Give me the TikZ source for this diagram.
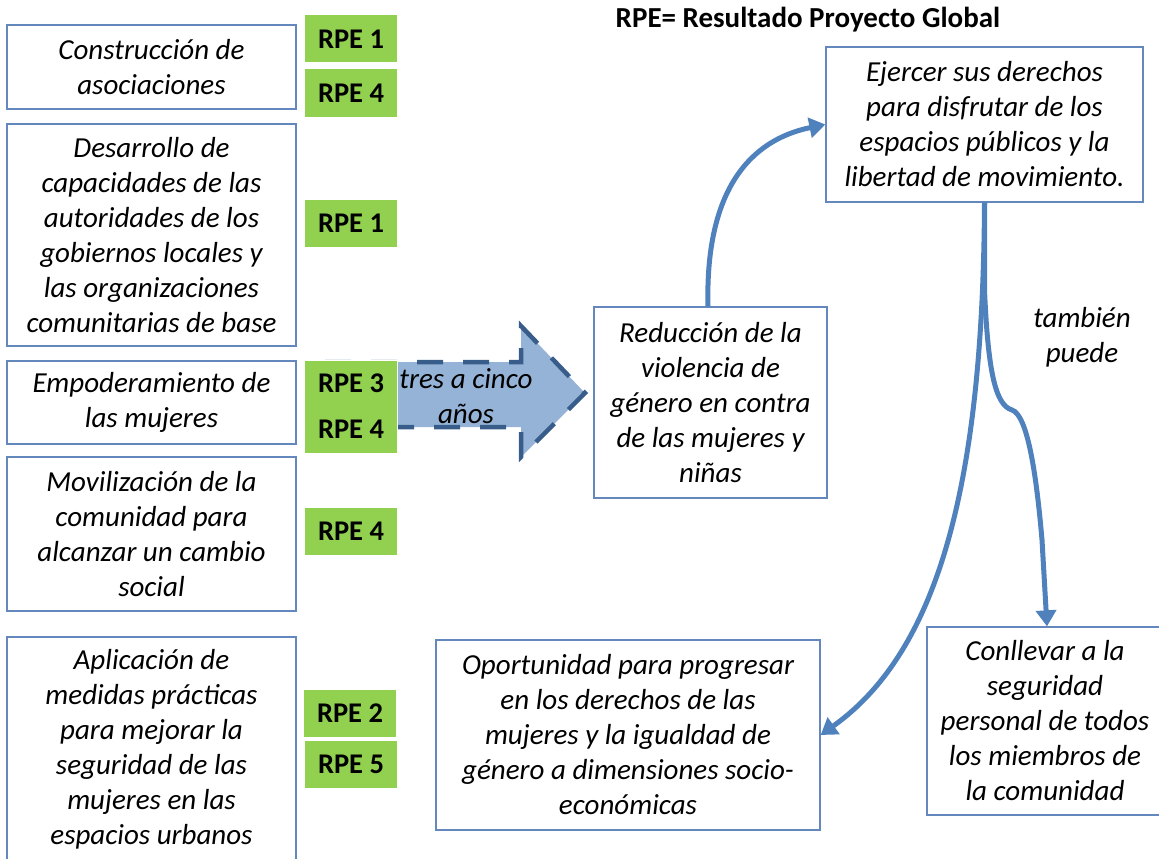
\documentclass[tikz,border=0pt]{standalone}
\usepackage{fontspec}
\setmainfont{Carlito}
\usetikzlibrary{arrows.meta,calc}
\definecolor{boxline}{RGB}{100,135,190}
\definecolor{flow}{RGB}{79,129,189}
\definecolor{rpegreen}{RGB}{146,208,80}
\definecolor{arrfill}{RGB}{149,179,215}
\definecolor{arrline}{RGB}{56,93,138}
\tikzset{
  box/.style={draw=boxline, line width=1.3pt, fill=white, align=center, inner sep=0pt,
    font=\fontsize{29}{35}\selectfont\itshape},
  rpe/.style={fill=rpegreen, draw=white, line width=1pt, minimum width=93, minimum height=48, inner sep=0pt,
    font=\fontsize{28.5}{46}\selectfont\bfseries, align=center},
  flowline/.style={draw=flow, line width=5pt, -{Triangle[length=16pt,width=20pt]}},
  lbl/.style={align=center, inner sep=0pt, font=\fontsize{29}{35}\selectfont\itshape}
}
\begin{document}
\begin{tikzpicture}[x=1pt,y=-1pt]
\useasboundingbox (0,0) rectangle (1159,859);
% left boxes
\node[box, minimum width=289, minimum height=84] (b1) at (151.5,67) {Construcción de\\asociaciones};
\node[box, minimum width=289, minimum height=222] (b2) at (151.5,235) {Desarrollo de\\capacidades de las\\autoridades de los\\gobiernos locales y\\las organizaciones\\comunitarias de base};
\node[box, minimum width=289, minimum height=83] (b3) at (151.5,402.5) {Empoderamiento de\\las mujeres};
\node[box, minimum width=289, minimum height=154] (b4) at (151.5,534) {Movilización de la\\comunidad para\\alcanzar un cambio\\social};
\node[box, minimum width=289, minimum height=225] (b5) at (151.5,749.5) {Aplicación de\\medidas prácticas\\para mejorar la\\seguridad de las\\mujeres en las\\espacios urbanos};
% big dashed arrow
\draw[fill=arrfill, draw=arrline, line width=4.5pt, dash pattern=on 26pt off 20pt]
  (325,362) -- (521,362) -- (521,326) -- (585,393) -- (521,457) -- (521,427) -- (325,427) -- cycle;
% green labels
\node[rpe] (r1) at (351,39) {RPE 1};
\node[rpe] (r4) at (351,93) {RPE 4};
\node[rpe] (r1b) at (351,223.5) {RPE 1};
\node[rpe, minimum height=93] (r34) at (351,406.5) {RPE 3\\RPE 4};
\node[rpe] (r4b) at (351,531.5) {RPE 4};
\node[rpe] (r2) at (350,713.5) {RPE 2};
\node[rpe] (r5) at (351,764.5) {RPE 5};
\node[lbl] (yrs) at (466,396) {tres a cinco\\años};
% title
\node[font=\fontsize{29}{32}\selectfont\bfseries, inner sep=0pt] (title) at (808,20) {RPE= Resultado Proyecto Global};
% right boxes
\node[box, minimum width=317, minimum height=155] (tr) at (984.5,124.5) {Ejercer sus derechos\\para disfrutar de los\\espacios públicos y la\\libertad de movimiento.};
\node[box, minimum width=233, minimum height=191] (mid) at (710.5,402.5) {Reducción de la\\violencia de\\género en contra\\de las mujeres y\\niñas};
\node[box, minimum width=384, minimum height=190] (bm) at (628,735) {Oportunidad para progresar\\en los derechos de las\\mujeres y la igualdad de\\género a dimensiones socio-\\económicas};
\node[box, minimum width=236, minimum height=188] (br) at (1045,721) {Conllevar a la\\seguridad\\personal de todos\\los miembros de\\la comunidad};
\node[lbl] (tamb) at (1082,337) {también\\puede};
\coordinate (brin) at ($(br.north)+(2,0)$);
\coordinate (midtop) at ($(mid.north)+(-2.5,0)$);
% connectors
\draw[flowline] (midtop) .. controls (705,190) and (750,140) .. (tr.west);
\draw[flowline] (tr.south) .. controls (983,480) and (940,650) .. (bm.east);
\draw[flowline] (tr.south) -- (984.5,290) .. controls (988,370) and (995,405) .. (1012,410) .. controls (1027,415) and (1036,470) .. (1042,540) -- (brin);
\end{tikzpicture}
\end{document}
